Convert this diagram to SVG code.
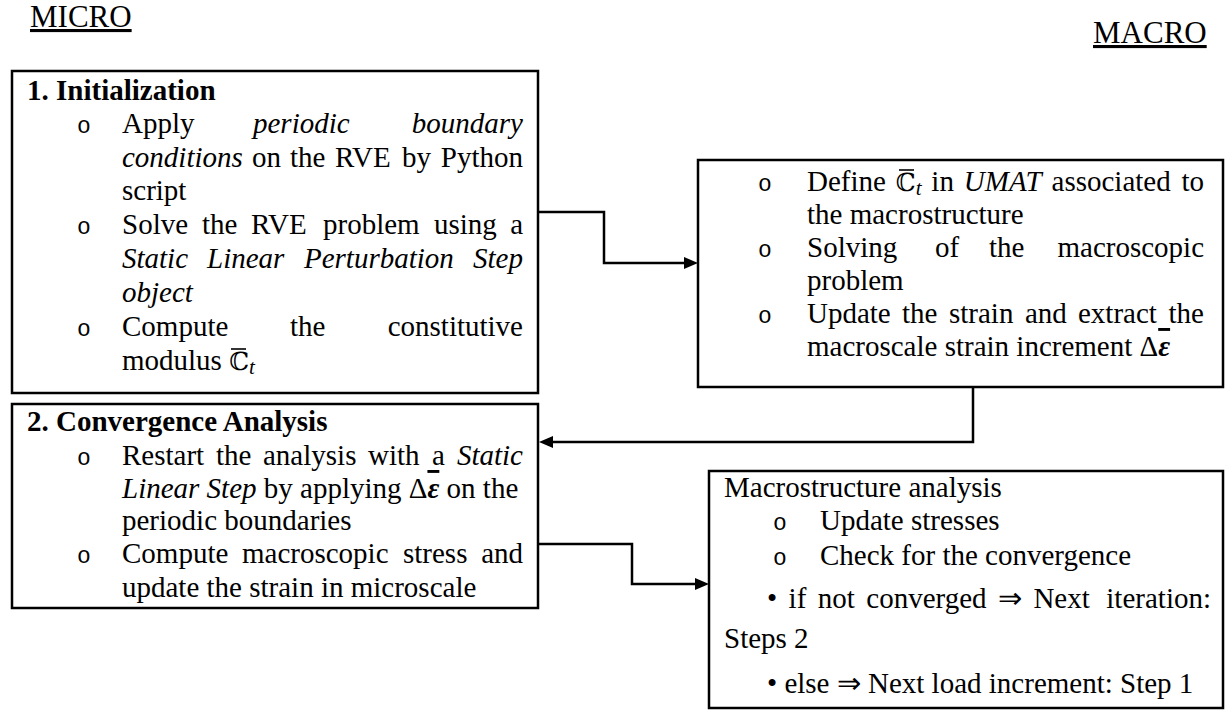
<svg xmlns="http://www.w3.org/2000/svg" width="1225" height="711" viewBox="0 0 1225 711">
<defs>
<style>
text{font-family:"Liberation Serif","Times New Roman",serif;font-size:29px;fill:#000}
.b{font-weight:bold}
.i{font-style:italic}
.e{text-anchor:end}
.bul{font-family:"Liberation Mono","Courier New",monospace;font-size:23px}
.box{fill:#fff;stroke:#000;stroke-width:2.5}
.con{fill:none;stroke:#000;stroke-width:2.5}
.bar{stroke:#000;stroke-width:1.6}
.bb{font-family:"DejaVu Serif",serif;font-size:25px}
.sub{font-style:italic;font-size:21px}
.eps{font-weight:bold;font-style:italic}
.title{font-size:31px}
</style>
<marker id="arr" markerWidth="14" markerHeight="12" refX="2" refY="6" orient="auto" markerUnits="userSpaceOnUse">
<path d="M0,0 L14,6 L0,12 z" fill="#000"/>
</marker>
</defs>
<rect width="1225" height="711" fill="#fff"/>

<text class="title" x="30" y="27" text-decoration="underline">MICRO</text>
<text class="title" x="1093" y="43" text-decoration="underline">MACRO</text>

<g id="connectors">
<path class="con" d="M538,212 H604 V263 H686" marker-end="url(#arr)"/>
<path class="con" d="M948,385 H973 V442 H551" marker-end="url(#arr)"/>
<path class="con" d="M538,544 H632 V584 H697" marker-end="url(#arr)"/>
</g>

<g id="node-initialization">
<rect class="box" x="12" y="71" width="526" height="322"/>
<text class="b" x="27" y="100">1. Initialization</text>
<text class="bul" x="77" y="133">o</text>
<text y="133"><tspan x="122">Apply</tspan><tspan class="i" x="253">periodic</tspan></text>
<text class="i e" x="523" y="133">boundary</text>
<text y="167"><tspan class="i" x="122">conditions</tspan><tspan x="252">on</tspan><tspan x="290">the</tspan><tspan x="335">RVE</tspan><tspan x="402">by</tspan></text>
<text class="e" x="523" y="167">Python</text>
<text x="122" y="200">script</text>
<text class="bul" x="77" y="234">o</text>
<text y="234"><tspan x="122">Solve</tspan><tspan x="202">the</tspan><tspan x="251">RVE</tspan><tspan x="323">problem</tspan><tspan x="434">using</tspan></text>
<text class="e" x="523" y="234">a</text>
<text class="i" y="268"><tspan x="122">Static</tspan><tspan x="207">Linear</tspan><tspan x="304">Perturbation</tspan></text>
<text class="i e" x="523" y="268">Step</text>
<text class="i" x="122" y="302">object</text>
<text class="bul" x="77" y="336">o</text>
<text y="336"><tspan x="122">Compute</tspan><tspan x="290">the</tspan></text>
<text class="e" x="523" y="336">constitutive</text>
<text x="122" y="370">modulus <tspan class="bb">ℂ</tspan><tspan class="sub" dy="4">t</tspan></text>
<line class="bar" x1="231" y1="349" x2="246" y2="349"/>
</g>

<g id="node-convergence">
<rect class="box" x="12" y="404" width="526" height="204"/>
<text class="b" x="27" y="431">2. Convergence Analysis</text>
<text class="bul" x="77" y="465">o</text>
<text y="465"><tspan x="122">Restart</tspan><tspan x="216">the</tspan><tspan x="263">analysis</tspan><tspan x="368">with</tspan><tspan x="432">a</tspan></text>
<text class="i e" x="523" y="465">Static</text>
<text x="122" y="498"><tspan class="i">Linear Step</tspan> by applying Δ<tspan class="eps" text-decoration="overline">ε</tspan> on the</text>
<text x="122" y="530">periodic boundaries</text>
<text class="bul" x="77" y="563">o</text>
<text y="563"><tspan x="122">Compute</tspan><tspan x="242">macroscopic</tspan><tspan x="403">stress</tspan></text>
<text class="e" x="523" y="563">and</text>
<text x="122" y="597">update the strain in microscale</text>
</g>

<g id="node-macro-solve">
<rect class="box" x="698" y="160" width="525" height="227"/>
<text class="bul" x="758" y="191">o</text>
<text x="807" y="191" word-spacing="2.6">Define <tspan class="bb">ℂ</tspan><tspan class="sub" dy="4">t</tspan><tspan dy="-4"> in </tspan><tspan class="i">UMAT</tspan> associated</text>
<line class="bar" x1="899" y1="170" x2="914" y2="170"/>
<text class="e" x="1204" y="191">to</text>
<text x="807" y="224">the macrostructure</text>
<text class="bul" x="758" y="257">o</text>
<text y="257"><tspan x="807">Solving</tspan><tspan x="935">of</tspan><tspan x="989">the</tspan></text>
<text class="e" x="1204" y="257">macroscopic</text>
<text x="807" y="290">problem</text>
<text class="bul" x="758" y="323">o</text>
<text y="323"><tspan x="807">Update</tspan><tspan x="902">the</tspan><tspan x="949">strain</tspan><tspan x="1025">and</tspan><tspan x="1078">extract</tspan></text>
<text class="e" x="1204" y="323">the</text>
<text x="807" y="356">macroscale strain increment Δ<tspan class="eps" text-decoration="overline">ε</tspan></text>
</g>

<g id="node-macro-analysis">
<rect class="box" x="709" y="471" width="514" height="237"/>
<text x="724" y="497">Macrostructure analysis</text>
<text class="bul" x="773" y="530">o</text>
<text x="820" y="530">Update stresses</text>
<text class="bul" x="773" y="565">o</text>
<text x="820" y="565">Check for the convergence</text>
<text x="767" y="608" word-spacing="4.2">• if not converged ⇒ Next</text>
<text class="e" x="1211" y="608">iteration:</text>
<text x="724" y="648">Steps 2</text>
<text x="767" y="693">• else ⇒ Next load increment: Step 1</text>
</g>
</svg>
